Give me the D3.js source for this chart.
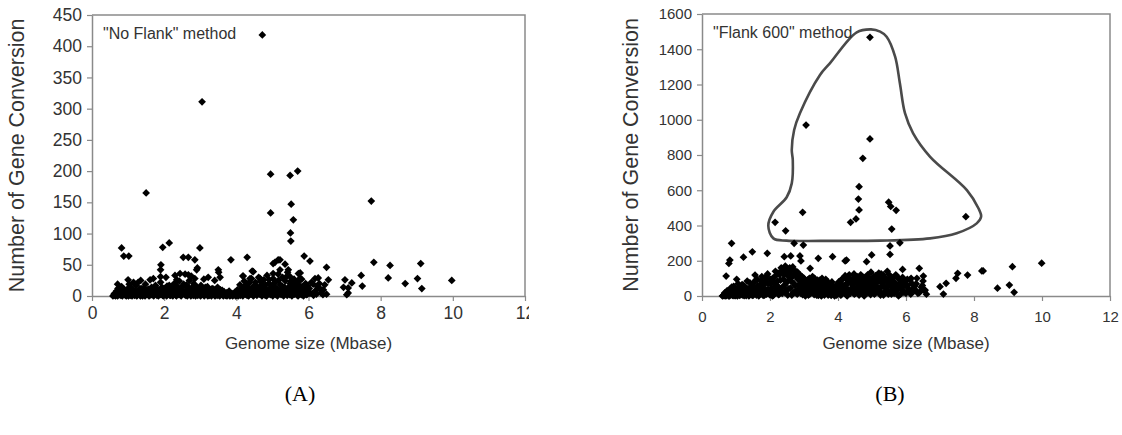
<!DOCTYPE html>
<html>
<head>
<meta charset="utf-8">
<script src="https://cdn.jsdelivr.net/npm/d3@7"></script>
<style>
  body { margin: 0; background: #fff; }
  svg { display: block; }
</style>
</head>
<body>
<svg id="chart" width="1122" height="435"></svg>
<script>
// Axis ticks
const xTicks = [0, 2, 4, 6, 8, 10, 12];
const yTicksNoFlank = [0, 50, 100, 150, 200, 250, 300, 350, 400, 450];
const yTicksFlank600 = [0, 200, 400, 600, 800, 1000, 1200, 1400, 1600];

// [genome size (Mbase), number of gene conversions] — "No Flank" method
const noFlankPoints = [
  [4.72,418],[3.05,311],[1.50,165],[4.95,195],[5.49,193],[5.70,200],[7.74,152],[4.95,133],[5.52,147],[5.58,122],[5.50,101],[5.51,88],
  [0.82,77],[0.88,64],[1.02,64],[1.96,78],[2.14,85],[2.99,77],[2.53,62],[2.67,62],[2.85,58],[2.92,45],[3.85,58],[4.30,62],[5.88,64],
  [6.04,56],[6.50,46],[7.81,54],[5.07,54],[5.16,58],[5.35,51],[1.91,50],[1.90,42],[1.90,31],[3.22,30],[3.51,38],[3.55,30],[4.19,32],[4.44,40],
  [8.26,49],[9.11,52],[9.97,25],[8.21,29],[9.02,28],[8.68,20],[9.14,12],[7.46,33],[7.49,16],[7.01,26],[7.20,21],[6.97,14],[7.10,5],[7.10,13],
  [5.81,27],[6.27,29],[6.55,26],[6.13,19],[5.95,13],[6.41,10],[5.97,3],[5.77,37],
  [0.71,19],[1.03,19],[1.28,22],[1.61,26],[1.38,12],[2.44,36],[2.35,26],[2.67,34],[2.90,42],[2.85,28],[3.50,42],[4.18,32],[4.47,39],[4.38,28],[4.66,28],
  [5.02,52],[5.21,58],[5.44,42],[5.21,42],[5.02,36],[5.49,31],[5.72,36],[5.76,28],[5.63,20],[5.67,2],[6.18,28],[6.30,20],[6.00,7],[6.37,10],[7.06,2],
  [1.15,22],[1.35,25],[1.70,28],[2.05,30],[2.30,33],[2.58,35],[2.75,32],[3.10,27],[3.40,25],[1.00,26],
  [0.60,1],[0.62,4],[0.65,0],[0.68,8],[0.70,2],[0.72,12],[0.75,3],[0.78,6],[0.80,1],[0.82,15],[0.85,4],[0.88,9],[0.90,2],[0.93,7],[0.95,0],[0.98,11],
  [1.00,3],[1.03,5],[1.06,1],[1.08,14],[1.10,6],[1.13,2],[1.16,9],[1.20,4],[1.22,17],[1.25,1],[1.28,7],[1.30,3],[1.33,12],[1.36,5],[1.40,0],[1.42,8],
  [1.45,2],[1.48,19],[1.50,6],[1.53,3],[1.56,11],[1.60,1],[1.62,5],[1.65,14],[1.68,2],[1.70,8],[1.73,4],[1.76,17],[1.80,1],[1.82,6],[1.85,10],[1.88,3],
  [1.90,22],[1.93,5],[1.96,1],[2.00,12],[2.02,7],[2.05,2],[2.08,16],[2.10,4],[2.13,9],[2.16,1],[2.20,13],[2.22,6],[2.25,3],[2.28,20],[2.30,8],[2.33,1],
  [2.36,11],[2.40,5],[2.42,24],[2.45,2],[2.48,9],[2.50,15],[2.53,4],[2.56,7],[2.60,1],[2.62,18],[2.65,10],[2.68,3],[2.70,25],[2.73,6],[2.76,13],[2.80,2],
  [2.82,20],[2.85,8],[2.88,4],[2.90,15],[2.93,1],[2.96,10],[3.00,5],[3.02,17],[3.05,3],[3.08,8],[3.10,12],[3.13,2],[3.16,6],[3.20,15],[3.22,4],[3.25,1],
  [3.28,9],[3.30,3],[3.33,12],[3.36,6],[3.40,1],[3.42,8],[3.45,3],[3.48,14],[3.50,5],[3.53,1],[3.56,10],[3.60,4],[3.63,2],[3.66,7],[3.70,1],[3.73,5],
  [3.76,3],[3.80,8],[3.84,1],[3.88,4],[3.92,2],[3.96,6],[4.00,1],[4.03,10],[4.06,3],[4.10,18],[4.13,6],[4.16,2],[4.20,14],[4.22,24],[4.25,5],[4.28,9],
  [4.30,1],[4.33,20],[4.36,12],[4.40,4],[4.42,28],[4.45,8],[4.48,16],[4.50,2],[4.53,22],[4.56,11],[4.60,5],[4.62,30],[4.65,14],[4.68,3],[4.70,19],[4.73,8],
  [4.76,26],[4.80,1],[4.82,12],[4.85,33],[4.88,6],[4.90,20],[4.93,10],[4.96,3],[5.00,16],[5.02,28],[5.05,7],[5.08,22],[5.10,2],[5.13,12],[5.16,35],[5.20,5],
  [5.22,18],[5.25,9],[5.28,30],[5.30,3],[5.33,14],[5.36,24],[5.40,6],[5.42,38],[5.45,11],[5.48,2],[5.50,20],[5.53,8],[5.56,15],[5.60,27],[5.62,4],[5.65,12],
  [5.70,22],[5.72,7],[5.76,16],[5.80,2],[5.84,10],[5.88,5],[5.92,20],[5.96,8],[6.02,12],[6.10,4],[6.20,9],[6.25,15],[6.35,5],[6.45,18],[6.50,3],
  [0.58,0],[0.63,2],[0.67,5],[0.71,0],[0.74,9],[0.77,2],[0.81,5],[0.84,0],[0.87,12],[0.91,4],[0.94,1],[0.97,6],[1.01,0],[1.04,10],[1.07,3],[1.11,0],
  [1.14,5],[1.18,1],[1.21,8],[1.24,0],[1.27,4],[1.31,10],[1.34,0],[1.38,6],[1.41,2],[1.44,13],[1.47,0],[1.51,4],[1.54,9],[1.58,0],[1.61,6],[1.64,2],
  [1.67,10],[1.71,0],[1.74,5],[1.78,12],[1.81,3],[1.84,0],[1.87,8],[1.91,2],[1.94,14],[1.98,0],[2.01,5],[2.04,10],[2.07,0],[2.11,3],[2.14,17],[2.18,1],
  [2.21,7],[2.24,0],[2.27,12],[2.31,4],[2.34,0],[2.37,15],[2.41,2],[2.44,8],[2.47,0],[2.51,5],[2.54,19],[2.57,2],[2.61,9],[2.64,0],[2.67,14],[2.71,3],
  [2.74,0],[2.77,8],[2.81,1],[2.84,16],[2.87,0],[2.91,6],[2.94,11],[2.97,2],[3.01,0],[3.04,9],[3.07,4],[3.11,0],[3.14,14],[3.17,6],[3.21,0],[3.24,9],
  [3.27,2],[3.31,0],[3.34,6],[3.37,11],[3.41,0],[3.44,4],[3.47,1],[3.51,7],[3.54,0],[3.57,3],[3.61,9],[3.64,0],[3.67,4],[3.71,2],[3.74,0],[3.78,5],
  [3.82,0],[3.86,2],[3.90,0],[3.94,4],[3.98,0],[4.02,3],[4.05,0],[4.08,7],[4.11,1],[4.14,12],[4.18,0],[4.21,5],[4.24,16],[4.27,2],[4.31,8],[4.34,0],
  [4.37,22],[4.41,3],[4.44,12],[4.47,0],[4.51,7],[4.54,17],[4.57,1],[4.61,10],[4.64,3],[4.67,24],[4.71,0],[4.74,14],[4.77,5],[4.81,18],[4.84,0],[4.87,9],
  [4.91,26],[4.94,2],[4.97,13],[5.01,0],[5.04,20],[5.07,5],[5.11,12],[5.14,0],[5.17,25],[5.21,8],[5.24,2],[5.27,16],[5.31,0],[5.34,9],[5.37,30],[5.41,1],
  [5.44,14],[5.47,5],[5.51,24],[5.54,0],[5.57,10],[5.61,3],[5.64,18],[5.68,6],[5.71,0],[5.74,12],[5.78,4],[5.82,15],[5.86,0],[5.90,8],[5.94,2],[5.98,16],
  [6.04,4],[6.08,22],[6.14,1],[6.22,3],[6.30,12],[6.40,2]
];

// [genome size (Mbase), number of gene conversions] — "Flank 600" method
const flank600Points = [
  [4.94,1468],[3.06,970],[4.94,891],[4.73,781],[4.62,620],[4.60,550],[4.62,488],[4.37,418],[4.53,437],[2.96,475],[2.15,418],[2.46,370],
  [5.49,532],[5.55,508],[5.71,486],[5.58,380],[5.53,284],[5.53,236],[5.82,302],[7.76,450],
  [0.87,299],[0.82,204],[0.79,185],[1.22,220],[1.48,251],[1.92,242],[2.42,223],[2.61,227],[2.71,299],[2.98,289],[2.88,227],[2.91,199],
  [3.42,214],[3.84,223],[4.21,199],[4.25,204],[4.84,195],[4.99,233],[3.18,157],[3.16,100],[0.71,113],[1.02,95],[1.56,119],[1.90,113],
  [2.59,148],[6.39,157],[5.90,151],[6.51,113],[7.52,129],[7.47,100],[7.81,119],[8.23,142],[8.27,142],[9.13,166],[9.99,186],[8.69,44],
  [9.04,62],[9.18,21],[7.10,11],[7.00,53],[7.18,72],[6.12,91],[6.26,57],[6.28,34],[6.56,34],[5.92,81],
  [0.62,2],[0.65,8],[0.68,0],[0.70,15],[0.72,4],[0.75,25],[0.78,1],[0.80,10],[0.83,40],[0.85,6],[0.88,20],[0.90,3],[0.93,55],[0.95,12],[0.98,2],[1.00,30],
  [1.03,8],[1.06,70],[1.08,15],[1.10,3],[1.13,45],[1.16,22],[1.20,5],[1.22,60],[1.25,12],[1.28,35],[1.30,2],[1.33,85],[1.36,18],[1.40,6],[1.42,50],[1.45,28],
  [1.48,3],[1.50,72],[1.53,14],[1.56,40],[1.60,5],[1.62,95],[1.65,25],[1.68,8],[1.70,60],[1.73,15],[1.76,110],[1.80,3],[1.82,45],[1.85,20],[1.88,80],[1.90,10],
  [1.93,125],[1.96,35],[2.00,6],[2.02,70],[2.05,18],[2.08,100],[2.10,4],[2.13,50],[2.16,140],[2.20,25],[2.22,85],[2.25,8],[2.28,120],[2.30,40],[2.33,160],[2.36,15],
  [2.40,95],[2.42,60],[2.45,170],[2.48,30],[2.50,130],[2.52,5],[2.55,110],[2.58,160],[2.60,45],[2.62,85],[2.65,150],[2.68,20],[2.70,120],[2.73,60],[2.76,140],[2.80,10],
  [2.82,95],[2.85,40],[2.88,120],[2.90,25],[2.93,75],[2.96,8],[3.00,100],[3.02,35],[3.05,60],[3.08,15],[3.10,90],[3.13,5],[3.16,50],[3.20,75],[3.22,20],[3.25,110],
  [3.28,40],[3.30,8],[3.33,65],[3.36,25],[3.40,90],[3.42,3],[3.45,45],[3.48,70],[3.50,15],[3.53,100],[3.56,30],[3.60,5],[3.63,55],[3.66,20],[3.70,80],[3.73,10],
  [3.76,40],[3.80,3],[3.84,60],[3.88,15],[3.92,35],[3.96,5],[4.00,50],[4.03,20],[4.06,75],[4.10,8],[4.13,45],[4.16,100],[4.20,25],[4.22,65],[4.25,5],[4.28,90],
  [4.30,35],[4.33,120],[4.36,15],[4.40,70],[4.42,45],[4.45,100],[4.48,10],[4.50,80],[4.53,30],[4.56,110],[4.60,55],[4.62,5],[4.65,90],[4.68,25],[4.70,70],[4.73,40],
  [4.76,105],[4.80,12],[4.82,60],[4.85,85],[4.88,20],[4.90,50],[4.93,100],[4.96,8],[5.00,75],[5.02,35],[5.05,110],[5.08,15],[5.10,60],[5.13,90],[5.16,25],[5.20,130],
  [5.22,45],[5.25,5],[5.28,80],[5.30,55],[5.33,120],[5.36,20],[5.40,95],[5.42,40],[5.45,140],[5.48,10],[5.50,70],[5.53,105],[5.56,30],[5.60,85],[5.62,50],[5.65,15],
  [5.70,120],[5.72,65],[5.76,40],[5.80,95],[5.84,10],[5.88,55],[5.92,30],[5.96,80],[6.00,15],[6.05,60],[6.10,25],[6.15,100],[6.20,40],[6.30,70],[6.35,15],[6.45,50],
  [6.50,85],[6.55,30],
  [0.60,0],[0.64,5],[0.67,18],[0.71,2],[0.74,30],[0.77,8],[0.81,0],[0.84,22],[0.87,50],[0.91,10],[0.94,2],[0.97,35],[1.01,15],[1.04,0],[1.07,45],[1.11,20],
  [1.14,6],[1.18,65],[1.21,25],[1.24,2],[1.27,50],[1.31,12],[1.34,40],[1.38,0],[1.41,75],[1.44,18],[1.47,55],[1.51,5],[1.54,30],[1.58,90],[1.61,15],[1.64,60],
  [1.67,0],[1.71,40],[1.74,85],[1.78,20],[1.81,65],[1.84,5],[1.87,100],[1.91,35],[1.94,70],[1.98,12],[2.01,95],[2.04,45],[2.07,0],[2.11,75],[2.14,110],[2.18,30],
  [2.21,60],[2.24,130],[2.27,10],[2.31,90],[2.34,140],[2.37,50],[2.41,120],[2.44,20],[2.47,150],[2.51,80],[2.54,40],[2.57,130],[2.61,100],[2.64,5],[2.67,165],[2.71,70],
  [2.74,115],[2.77,30],[2.81,135],[2.84,60],[2.87,95],[2.91,15],[2.94,110],[2.97,50],[3.01,80],[3.04,0],[3.07,70],[3.11,30],[3.14,95],[3.17,10],[3.21,55],[3.24,85],
  [3.27,20],[3.31,100],[3.34,40],[3.37,5],[3.41,65],[3.44,30],[3.47,90],[3.51,0],[3.54,50],[3.57,75],[3.61,25],[3.64,95],[3.67,45],[3.71,5],[3.74,60],[3.78,20],
  [3.82,80],[3.86,35],[3.90,0],[3.94,60],[3.98,25],[4.02,80],[4.05,40],[4.08,5],[4.11,95],[4.14,60],[4.18,20],[4.21,115],[4.24,45],[4.27,0],[4.31,75],[4.34,100],
  [4.37,30],[4.41,90],[4.44,55],[4.47,125],[4.51,15],[4.54,75],[4.57,40],[4.61,100],[4.64,20],[4.67,120],[4.71,50],[4.74,85],[4.77,0],[4.81,95],[4.84,35],[4.87,120],
  [4.91,65],[4.94,25],[4.97,135],[5.01,55],[5.04,90],[5.07,10],[5.11,115],[5.14,45],[5.17,80],[5.21,100],[5.24,25],[5.27,125],[5.31,70],[5.34,5],[5.37,105],[5.41,50],
  [5.44,85],[5.47,30],[5.51,120],[5.54,60],[5.57,10],[5.61,100],[5.64,40],[5.68,75],[5.71,25],[5.74,110],[5.78,0],[5.82,70],[5.86,40],[5.90,105],[5.94,20],[5.98,60],
  [6.04,95],[6.08,40],[6.14,10],[6.18,70],[6.24,30],[6.32,100],[6.40,20],[6.48,60],[6.60,10]
];

// Hand-drawn outline around the high-count genomes (data units)
const flank600Outline = [
  [4.97,1513],[5.24,1500],[5.43,1471],[5.68,1358],[5.82,1207],[5.97,1037],[6.21,923],[6.71,790],[7.79,601],[8.13,498],[8.21,450],
  [8.08,412],[7.49,356],[6.71,327],[5.24,314],[3.50,313],[2.49,314],[2.10,327],[1.95,399],[2.10,478],[2.49,560],[2.64,639],
  [2.67,772],[2.64,828],[2.71,942],[2.88,1037],[3.47,1254],[3.76,1320],[4.55,1496]
];

const svg = d3.select("#chart");
const font = "Arial, 'Liberation Sans', sans-serif";
const axisColor = "#8a8a8a";
const textColor = "#333";

function drawPanel(cfg) {
  const g = svg.append("g");
  if (cfg.clipRight) {
    const id = "clip-" + cfg.key;
    svg.append("defs").append("clipPath").attr("id", id)
      .append("rect").attr("x", 0).attr("y", 0).attr("width", cfg.clipRight).attr("height", 435);
    g.attr("clip-path", `url(#${id})`);
  }
  const x = d3.scaleLinear().domain([0, 12]).range([cfg.left, cfg.right]);
  const y = d3.scaleLinear().domain([0, cfg.yMax]).range([cfg.bottom, cfg.top]);

  // frame: top and right borders
  g.append("path")
    .attr("d", `M${cfg.left},${cfg.top}H${cfg.right}V${cfg.bottom}`)
    .attr("fill", "none").attr("stroke", axisColor).attr("stroke-width", 1.5);

  const xAxis = g.append("g").attr("transform", `translate(0,${cfg.bottom})`)
    .call(d3.axisBottom(x).tickValues(xTicks).tickFormat(d3.format("d"))
      .tickSize(5).tickSizeOuter(0).tickPadding(cfg.xPad));
  const yAxis = g.append("g").attr("transform", `translate(${cfg.left},0)`)
    .call(d3.axisLeft(y).tickValues(cfg.yTicks).tickFormat(d3.format("d"))
      .tickSize(5).tickSizeOuter(0).tickPadding(5));
  [xAxis, yAxis].forEach(a => {
    a.select(".domain").attr("stroke", axisColor).attr("stroke-width", 1.5);
    a.selectAll(".tick line").attr("stroke", axisColor).attr("stroke-width", 1.2);
    a.selectAll(".tick text").attr("fill", textColor).style("font-family", font).style("font-size", cfg.tickFont);
  });

  // outline (panel B only)
  if (cfg.outline) {
    g.append("path")
      .datum(cfg.outline)
      .attr("d", d3.line().x(d => x(d[0])).y(d => y(d[1])).curve(d3.curveCatmullRomClosed.alpha(0.5)))
      .attr("fill", "none").attr("stroke", "#4a4a4a").attr("stroke-width", 2.6);
  }

  // diamond markers
  const diamond = d3.symbol().type(d3.symbolSquare).size(30);
  g.append("g").selectAll("path").data(cfg.points).join("path")
    .attr("d", diamond)
    .attr("transform", d => `translate(${x(d[0])},${y(d[1])}) rotate(45)`)
    .attr("fill", "#000");

  // method label
  g.append("text").attr("x", cfg.left + 11).attr("y", cfg.top + 18)
    .attr("dominant-baseline", "central")
    .attr("fill", textColor).style("font-family", font).style("font-size", "16px")
    .text(cfg.method);

  // axis titles
  g.append("text")
    .attr("transform", `translate(${cfg.yTitleX},${(cfg.top + cfg.bottom) / 2}) rotate(-90)`)
    .attr("text-anchor", "middle").attr("dominant-baseline", "central")
    .attr("fill", textColor).style("font-family", font).style("font-size", "21.5px")
    .text("Number of Gene Conversion");
  g.append("text")
    .attr("x", (cfg.left + cfg.right) / 2).attr("y", cfg.xTitleY)
    .attr("text-anchor", "middle").attr("dominant-baseline", "central")
    .attr("fill", textColor).style("font-family", font).style("font-size", "17px")
    .text("Genome size (Mbase)");

  // panel letter
  svg.append("text").attr("x", cfg.letterX).attr("y", 393)
    .attr("text-anchor", "middle").attr("dominant-baseline", "central")
    .attr("fill", "#000").style("font-family", "'Liberation Serif', 'Times New Roman', serif").style("font-size", "22px")
    .text(cfg.letter);
}

drawPanel({
  key: "a", left: 92, right: 525, top: 15, bottom: 296, yMax: 450,
  yTicks: yTicksNoFlank, points: noFlankPoints, method: "\"No Flank\" method",
  yTitleX: 17, xTitleY: 343, xPad: 6, tickFont: "17.5px", letterX: 300, letter: "(A)", clipRight: 529
});
drawPanel({
  key: "b", left: 702, right: 1110, top: 14, bottom: 296, yMax: 1600,
  yTicks: yTicksFlank600, points: flank600Points, outline: flank600Outline,
  method: "\"Flank 600\" method",
  yTitleX: 631, xTitleY: 343, xPad: 10, tickFont: "15px", letterX: 890, letter: "(B)"
});
</script>
</body>
</html>
